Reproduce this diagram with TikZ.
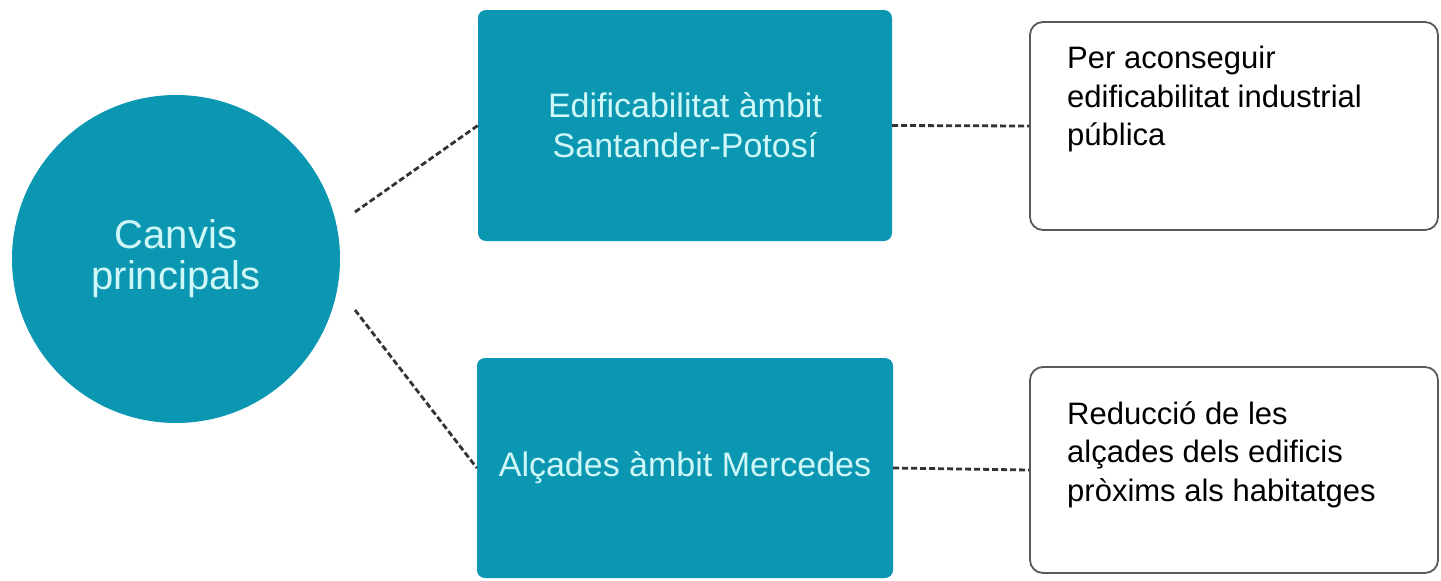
\documentclass[tikz,border=0pt]{standalone}
\usepackage{fontspec}
\setmainfont{Liberation Sans}
\definecolor{tealfill}{HTML}{0B97B1}
\definecolor{tealtext}{HTML}{CFF7F7}
\definecolor{dashcol}{HTML}{333333}
\definecolor{boxborder}{HTML}{5A5A5A}
\begin{document}
\begin{tikzpicture}[x=1pt,y=-1pt,
  tealbox/.style={rectangle, rounded corners=8pt, fill=tealfill, draw=none, text=tealtext, align=center, inner sep=0pt},
  whitebox/.style={rectangle, rounded corners=13pt, draw=boxborder, line width=1.8pt, fill=white, inner sep=0pt},
  conn/.style={draw=dashcol, line width=2.8pt, dash pattern=on 6pt off 3pt},
  bodytext/.style={anchor=north west, align=left, inner sep=0pt, text=black, font=\fontsize{31}{38.5}\selectfont}
]
\useasboundingbox (0,0) rectangle (1441,581);
\fill[white] (0,0) rectangle (1441,581);

\node[circle, fill=tealfill, minimum size=328pt, inner sep=0pt, text=tealtext, align=center,
  font=\fontsize{40}{41}\selectfont] (c) at (176,259) {Canvis\\principals};

\node[tealbox, minimum width=414pt, minimum height=231pt, font=\fontsize{34}{40}\selectfont] (b1) at (685,125.5) {Edificabilitat àmbit\\Santander-Potosí};
\node[tealbox, minimum width=416pt, minimum height=220pt, font=\fontsize{34}{40}\selectfont] (b2) at (685,468) {Alçades àmbit Mercedes};

\node[whitebox, minimum width=408pt, minimum height=208pt] (w1) at (1234,126) {};
\node[whitebox, minimum width=408pt, minimum height=206pt] (w2) at (1234,470) {};

\node[bodytext] (t1) at (1067,46) {Per aconseguir\\edificabilitat industrial\\pública};
\node[bodytext] (t2) at (1067,401) {Reducció de les\\alçades dels edificis\\pròxims als habitatges};

\coordinate (a1) at (355,212);
\coordinate (a2) at (355,310);
\draw[conn] (a1) -- (b1.west);
\draw[conn] (a2) -- (b2.west);
\draw[conn] (b1.east) -- (w1.west);
\draw[conn] (b2.east) -- (w2.west);
\end{tikzpicture}
\end{document}
